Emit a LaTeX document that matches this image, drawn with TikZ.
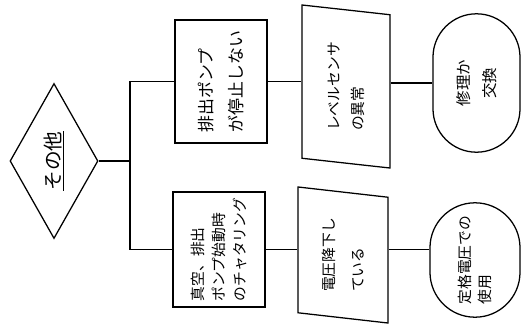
\documentclass[tikz,border=0pt]{standalone}
\usepackage{fontspec}
\newfontfamily\jp{Noto Sans CJK JP}
\usetikzlibrary{shapes.geometric,shapes.misc}

\begin{document}
\begin{tikzpicture}[x=0.025cm,y=0.025cm]
\tikzset{
  flownode/.style={draw,line width=0.9pt,rotate=90,inner sep=2pt,align=left,
    font=\jp\fontsize{10.5}{17}\selectfont},
  decision/.style={flownode,diamond,aspect=1.76,inner sep=0pt,
    font=\jp\fontsize{14}{18}\selectfont},
  process/.style={flownode,rectangle},
  inout/.style={flownode,trapezium,trapezium stretches body},
  terminal/.style={flownode,rounded rectangle},
  link/.style={line width=0.9pt}
}
\useasboundingbox (0,0) rectangle (521,325);
\node[decision,minimum width=3.875cm,minimum height=2.2cm] (n_dia) at (54,164) {\underline{その他}};
\node[process,minimum width=3.075cm,minimum height=2.3cm,
  font=\jp\fontsize{12}{22}\selectfont] (n_stopA) at (221,243.5) {排出ポンプ\\が停止しない};
\node[process,minimum width=2.875cm,minimum height=2.3cm,
  font=\jp\fontsize{10.5}{15}\selectfont] (n_stopB) at (219,75.5) {真空、排出\\ポンプ始動時\\のチャタリング};
\node[inout,trapezium left angle=77,trapezium right angle=103,
  minimum width=4.075cm,minimum height=2.2cm] (n_levelA) at (346,238.5) {レベルセンサ\\の異常};
\node[inout,trapezium left angle=78,trapezium right angle=102,
  minimum width=3.4cm,minimum height=2.25cm,
  font=\jp\fontsize{10.5}{21}\selectfont] (n_voltB) at (343,70) {電圧降下し\\ている};
\node[terminal,minimum width=3.6cm,minimum height=2.175cm,align=center,
  font=\jp\fontsize{11}{19}\selectfont] (n_fixA) at (476.5,242) {修理か\\交換};
\node[terminal,minimum width=3.0cm,minimum height=2.25cm,
  font=\jp\fontsize{10.5}{14}\selectfont] (n_ratedB) at (475,65) {定格電圧での\\使用};
\coordinate (n_split) at (130,164);
\draw[link] (n_dia.south) -- (n_split);
\draw[link] (n_split) |- (n_stopA.north);
\draw[link] (n_split) |- (n_stopB.north);
\draw[link] (n_stopA.south) -- (n_stopA.south -| n_levelA.north);
\draw[link] (n_fixA.north -| n_levelA.south) -- (n_fixA.north);
\draw[link] (n_stopB.south) -- (n_stopB.south -| n_voltB.north);
\draw[link] (n_stopB.south -| n_voltB.south) -- (n_stopB.south -| n_ratedB.north);
\end{tikzpicture}
\end{document}
